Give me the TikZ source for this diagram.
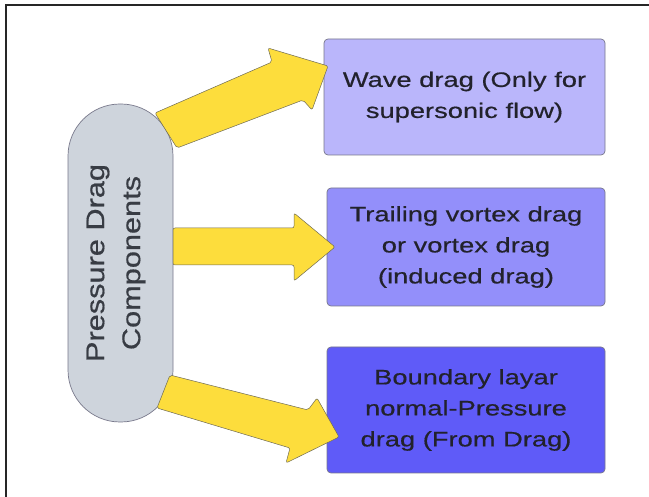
\documentclass[tikz,border=0pt]{standalone}
\usepackage{fontspec}
\setmainfont{Liberation Sans}
\newfontfamily\boxfont[FakeStretch=1.3,FakeBold=0.5]{Liberation Sans}
\newfontfamily\pillfont[FakeStretch=1.2,FakeBold=0.6]{Liberation Sans}
\definecolor{arrowyellow}{HTML}{FDDD3C}
\definecolor{arrowedge}{HTML}{6E6A55}
\definecolor{pillfill}{HTML}{CED4DC}
\definecolor{pilltext}{HTML}{383C44}
\definecolor{boxone}{HTML}{BAB6FB}
\definecolor{boxtwo}{HTML}{938FFA}
\definecolor{boxthree}{HTML}{5F5BF8}
\definecolor{boxedge}{HTML}{77778A}
\definecolor{boxtext}{HTML}{22222C}
\tikzset{
  x=1pt, y=-1pt,
  dragbox/.style={draw=boxedge, line width=0.7pt, rounded corners=4pt,
    inner sep=0pt, text=boxtext, align=center,
    font=\boxfont\fontsize{21}{31}\selectfont},
  blockarrow/.style={fill=arrowyellow, draw=arrowedge, line width=0.5pt,
    rounded corners=2pt},
  pillshape/.style={draw=boxedge, line width=0.7pt, fill=pillfill,
    inner sep=0pt},
  pilllabel/.style={rotate=90, text=pilltext, align=center,
    font=\pillfont\fontsize{25.6}{36}\selectfont}
}
\begin{document}
\begin{tikzpicture}
\useasboundingbox (0,0) rectangle (649,497);
% outer frame (runs off the right and bottom edges)
\draw[line width=1.6pt, black!85] (6,497) -- (6,5) -- (649,5);

% component boxes
\node[dragbox, fill=boxone, minimum width=281pt, minimum height=116pt]
  (wave) at (464.5,97) {Wave drag (Only for\\supersonic flow)};
\node[dragbox, fill=boxtwo, minimum width=278pt, minimum height=118pt]
  (vortex) at (466,247) {Trailing vortex drag\\or vortex drag\\(induced drag)};
\node[dragbox, fill=boxthree, minimum width=278pt, minimum height=126pt]
  (boundary) at (466,410) {Boundary layar\\normal-Pressure\\drag (From Drag)};

% central pill
\node[pillshape, minimum width=105pt, minimum height=318pt,
  rounded corners=52pt] (pill) at (120.5,263) {};
\node[pilllabel] (pilltitle) at (116,263) {Pressure Drag\\Components};

% block arrows from the pill to each box
\draw[blockarrow] (155,113) -- (272,62) -- (268,48) -- (328,66)
  -- (312,110) -- (303,100) -- (177,148) -- cycle;
\draw[blockarrow] (173,228) -- (294,228) -- (294,213) -- (335,247)
  -- (294,281) -- (294,265) -- (173,265) -- cycle;
\draw[blockarrow] (170,375) -- (308,410) -- (317,398) -- (339,437)
  -- (286,463) -- (290,448) -- (157,408) -- cycle;
\end{tikzpicture}
\end{document}
